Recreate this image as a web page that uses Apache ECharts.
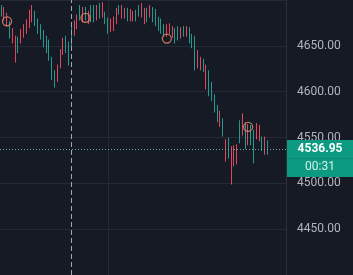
<!DOCTYPE html>
<html><head><meta charset="utf-8">
<script src="https://cdn.jsdelivr.net/npm/echarts@6/dist/echarts.min.js"></script>
<style>html,body{margin:0;padding:0;background:#161a25;}#c{width:353px;height:275px;}</style>
</head><body><div id="c"></div>
<script>
// ---- data ----
const slotCount = 102;
const categories = Array.from({length: slotCount}, (_, i) => 'T' + i);
const opens = [4686.1,4689.3,4681.9,4663.1,4665.2,4656.8,4646.3,4663.1,4669.4,4675.7,4684.0,4690.3,4677.7,4667.3,4663.1,4654.7,4648.4,4642.1,4623.3,4610.7,4623.3,4640.1,4652.6,4646.3,4633.8,4652.6,4673.6,4679.8,4681.9,4686.1,4681.9,4684.0,4679.8,4679.8,4688.2,4684.0,4692.4,4677.7,4667.3,4673.6,4677.7,4688.2,4686.1,4690.3,4688.2,4681.9,4686.1,4684.0,4679.8,4686.1,4692.4,4686.1,4681.9,4690.3,4679.8,4677.7,4671.5,4667.3,4663.1,4667.3,4671.5,4667.3,4658.9,4663.1,4667.3,4665.2,4669.4,4658.9,4652.6,4636.9,4642.1,4633.8,4625.4,4625.4,4600.3,4594.0,4581.4,4571.0,4575.1,4556.3,4542.7,4532.2,4537.4,4535.3,4539.5,4547.9,4564.7,4547.9,4560.5,4547.9,4537.4,4562.6,4558.4,4539.5,4547.9,4533.2];
const closes = [4690.3,4681.9,4675.7,4671.5,4656.8,4642.1,4654.7,4656.8,4663.1,4667.3,4673.6,4679.8,4684.0,4675.7,4669.4,4663.1,4656.8,4650.5,4631.7,4619.1,4614.9,4629.6,4644.2,4654.7,4648.4,4667.3,4665.2,4671.5,4690.3,4679.8,4688.2,4677.7,4688.2,4690.3,4679.8,4690.3,4684.0,4684.0,4675.7,4667.3,4669.4,4677.7,4692.4,4684.0,4681.9,4688.2,4679.8,4677.7,4686.1,4692.4,4686.1,4677.7,4688.2,4684.0,4686.1,4684.0,4677.7,4673.6,4669.4,4663.1,4665.2,4661.0,4665.2,4669.4,4661.0,4669.4,4663.1,4667.3,4661.0,4654.7,4631.7,4627.5,4631.7,4610.7,4616.0,4604.4,4594.0,4581.4,4566.7,4566.7,4529.1,4544.8,4516.5,4524.9,4531.2,4564.7,4556.3,4560.5,4552.1,4558.4,4552.1,4552.1,4547.9,4547.9,4537.4,4536.95];
const lows = [4681.9,4677.7,4671.5,4657.9,4652.6,4631.7,4642.1,4652.6,4658.9,4663.1,4669.4,4675.7,4671.5,4663.1,4656.8,4648.4,4642.1,4633.8,4612.8,4604.4,4610.7,4625.4,4640.1,4642.1,4628.5,4648.4,4661.0,4668.3,4677.7,4675.7,4677.7,4673.6,4675.7,4675.7,4677.7,4679.8,4680.9,4673.6,4663.1,4665.2,4666.2,4673.6,4684.0,4679.8,4679.8,4676.7,4676.7,4676.7,4676.7,4681.9,4680.9,4673.6,4675.7,4680.9,4675.7,4671.5,4666.2,4663.1,4660.0,4660.0,4663.1,4658.9,4652.6,4655.8,4657.9,4660.0,4660.0,4652.6,4647.4,4623.3,4625.4,4623.3,4621.2,4602.4,4595.0,4589.8,4577.2,4566.7,4561.5,4551.0,4523.8,4527.0,4498.7,4518.6,4520.7,4543.7,4552.1,4537.4,4541.6,4541.6,4521.7,4547.9,4545.8,4535.3,4531.2,4531.2];
const highs = [4694.5,4692.4,4686.1,4676.7,4669.4,4661.0,4660.0,4668.3,4673.6,4678.8,4689.3,4694.5,4688.2,4679.8,4673.6,4667.3,4661.0,4656.8,4638.0,4623.3,4629.6,4646.3,4658.9,4661.0,4654.7,4673.6,4677.7,4684.0,4694.5,4692.4,4692.4,4688.2,4694.5,4694.5,4694.5,4696.6,4697.6,4687.2,4680.9,4679.8,4681.9,4691.4,4694.5,4694.5,4691.4,4691.4,4690.3,4688.2,4689.3,4694.5,4696.6,4691.4,4691.4,4694.5,4692.4,4690.3,4681.9,4679.8,4673.6,4673.6,4674.6,4671.5,4669.4,4671.5,4670.4,4671.5,4671.5,4670.4,4663.1,4661.0,4645.3,4638.0,4635.9,4629.6,4623.3,4610.7,4597.1,4585.6,4579.3,4571.0,4547.9,4550.0,4540.6,4541.6,4542.7,4568.8,4576.2,4566.7,4564.7,4563.6,4558.4,4565.7,4563.6,4551.0,4551.0,4546.9];
const markerIndex = [2, 30, 59, 88];
const markerValue = [4676.7, 4680.6, 4657.9, 4561.5];
const yTicks = [4400, 4450, 4500, 4550, 4600, 4650, 4700];
const crosshairIndex = 25;
const gridLineIndex = 38;
const lastPrice = 4536.95;
const countdown = '00:31';

const candleData = opens.map((o, i) => [o, closes[i], lows[i], highs[i]]);
const markerData = markerIndex.map((k, i) => [k, markerValue[i]]);

const chart = echarts.init(document.getElementById('c'), null, {renderer: 'canvas'});
chart.setOption({
  animation: false,
  backgroundColor: '#161a25',
  grid: {left: 0, right: 67, top: -5.25, bottom: -6.25, containLabel: false},
  xAxis: {
    type: 'category', data: categories, boundaryGap: true,
    axisLine: {show: false}, axisTick: {show: false}, axisLabel: {show: false},
    splitLine: {show: false}
  },
  yAxis: {
    type: 'value', position: 'right', min: yTicks[0], max: yTicks[yTicks.length - 1], interval: 50,
    axisLine: {show: true, lineStyle: {color: '#2a2e39'}},
    axisTick: {show: false},
    axisLabel: {color: '#b2b5be', fontSize: 12, fontFamily: 'Roboto', margin: 11,
      showMinLabel: false, showMaxLabel: false, formatter: v => v.toFixed(2)},
    splitLine: {lineStyle: {color: '#252935', width: 1}}
  },
  series: [{
    type: 'candlestick', data: candleData, barWidth: 1,
    itemStyle: {color: '#229a8d', color0: '#e0475a', borderColor: '#229a8d', borderColor0: '#e0475a', borderWidth: 1},
    markLine: {
      silent: true, symbol: ['none', 'none'], animation: false,
      label: {show: false},
      data: [
        {xAxis: gridLineIndex, lineStyle: {color: '#252935', width: 1, type: 'solid'}},
        {xAxis: crosshairIndex, lineStyle: {color: '#a3a6af', width: 1, type: [5, 3]}},
        {yAxis: lastPrice, lineStyle: {color: '#6fa8a0', width: 1, type: [1, 2]}}
      ]
    }
  }, {
    type: 'scatter', data: markerData, symbol: 'circle', symbolSize: 9,
    itemStyle: {color: 'rgba(0,0,0,0)', borderColor: '#f08a6e', borderWidth: 1.3}, z: 5
  }]
});

const py = chart.convertToPixel({yAxisIndex: 0}, lastPrice);
chart.setOption({
  graphic: [
    {type: 'rect', shape: {x: 287, y: py - 9.5, width: 66, height: 37}, style: {fill: '#0c9a82'}, z: 100},
    {type: 'rect', shape: {x: 287, y: py + 8.5, width: 66, height: 1}, style: {fill: '#0a8a74'}, z: 101},
    {type: 'text', x: 320, y: py, style: {text: lastPrice.toFixed(2), fill: '#ffffff', font: 'bold 12px Roboto', textAlign: 'center', textVerticalAlign: 'middle'}, z: 102},
    {type: 'text', x: 320, y: py + 17.5, style: {text: countdown, fill: '#d6efe9', font: '12px Roboto', textAlign: 'center', textVerticalAlign: 'middle'}, z: 102}
  ]
});
</script>
</body></html>
